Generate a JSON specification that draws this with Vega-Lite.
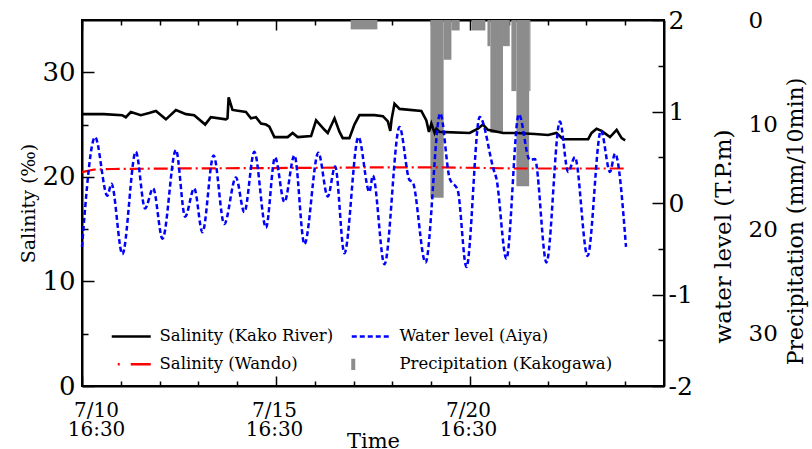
{
  "$schema": "https://vega.github.io/schema/vega-lite/v6.json",
  "width": 582,
  "height": 366,
  "autosize": {"type": "none"},
  "padding": {"left": 82, "top": 20, "right": 148, "bottom": 63},
  "background": "white",
  "config": {
    "view": {"stroke": "black", "strokeWidth": 2},
    "font": "DejaVu Serif",
    "axis": {"domainColor": "black", "domainWidth": 2, "tickColor": "black", "tickWidth": 1.5, "labelColor": "black", "titleColor": "black", "labelFont": "DejaVu Serif", "titleFont": "DejaVu Serif", "titleFontWeight": "normal", "grid": false, "labelOverlap": false}
  },
  "datasets": {
    "kako": [
      {"t": "2015-07-10T16:30:00Z", "v": 26.0},
      {"t": "2015-07-11T06:00:00Z", "v": 26.0},
      {"t": "2015-07-11T17:18:00Z", "v": 25.9},
      {"t": "2015-07-11T19:36:00Z", "v": 25.7},
      {"t": "2015-07-11T22:42:00Z", "v": 26.2},
      {"t": "2015-07-12T04:54:00Z", "v": 25.9},
      {"t": "2015-07-12T10:00:00Z", "v": 26.1},
      {"t": "2015-07-12T14:12:00Z", "v": 26.3},
      {"t": "2015-07-12T20:24:00Z", "v": 25.5},
      {"t": "2015-07-13T02:36:00Z", "v": 26.4},
      {"t": "2015-07-13T08:48:00Z", "v": 26.0},
      {"t": "2015-07-13T13:54:00Z", "v": 25.9},
      {"t": "2015-07-13T20:42:00Z", "v": 25.0},
      {"t": "2015-07-14T00:12:00Z", "v": 25.7},
      {"t": "2015-07-14T09:30:00Z", "v": 25.5},
      {"t": "2015-07-14T10:30:00Z", "v": 25.6},
      {"t": "2015-07-14T11:12:00Z", "v": 27.6},
      {"t": "2015-07-14T13:36:00Z", "v": 26.4},
      {"t": "2015-07-14T21:54:00Z", "v": 26.2},
      {"t": "2015-07-15T01:00:00Z", "v": 25.6},
      {"t": "2015-07-15T04:06:00Z", "v": 25.7},
      {"t": "2015-07-15T07:12:00Z", "v": 25.1},
      {"t": "2015-07-15T10:18:00Z", "v": 25.0},
      {"t": "2015-07-15T12:24:00Z", "v": 24.8},
      {"t": "2015-07-15T15:30:00Z", "v": 23.8},
      {"t": "2015-07-15T23:42:00Z", "v": 23.8},
      {"t": "2015-07-16T02:48:00Z", "v": 24.2},
      {"t": "2015-07-16T05:54:00Z", "v": 23.8},
      {"t": "2015-07-16T14:12:00Z", "v": 23.9},
      {"t": "2015-07-16T17:18:00Z", "v": 25.4},
      {"t": "2015-07-16T22:30:00Z", "v": 24.5},
      {"t": "2015-07-17T00:30:00Z", "v": 24.2},
      {"t": "2015-07-17T04:42:00Z", "v": 25.6},
      {"t": "2015-07-17T07:48:00Z", "v": 24.3},
      {"t": "2015-07-17T09:48:00Z", "v": 23.7},
      {"t": "2015-07-17T13:54:00Z", "v": 23.7},
      {"t": "2015-07-17T17:00:00Z", "v": 25.0},
      {"t": "2015-07-17T20:06:00Z", "v": 25.9},
      {"t": "2015-07-18T05:24:00Z", "v": 25.9},
      {"t": "2015-07-18T10:36:00Z", "v": 25.8},
      {"t": "2015-07-18T13:42:00Z", "v": 25.3},
      {"t": "2015-07-18T15:12:00Z", "v": 24.4},
      {"t": "2015-07-18T16:00:00Z", "v": 25.5},
      {"t": "2015-07-18T17:48:00Z", "v": 27.0},
      {"t": "2015-07-18T20:54:00Z", "v": 26.5},
      {"t": "2015-07-19T10:24:00Z", "v": 26.3},
      {"t": "2015-07-19T13:30:00Z", "v": 25.4},
      {"t": "2015-07-19T15:06:00Z", "v": 24.3},
      {"t": "2015-07-19T16:36:00Z", "v": 25.1},
      {"t": "2015-07-19T18:36:00Z", "v": 24.2},
      {"t": "2015-07-19T19:42:00Z", "v": 24.6},
      {"t": "2015-07-19T21:42:00Z", "v": 24.3},
      {"t": "2015-07-20T16:18:00Z", "v": 24.2},
      {"t": "2015-07-20T21:24:00Z", "v": 24.6},
      {"t": "2015-07-21T00:30:00Z", "v": 25.0},
      {"t": "2015-07-21T03:36:00Z", "v": 24.5},
      {"t": "2015-07-21T12:54:00Z", "v": 24.2},
      {"t": "2015-07-21T21:12:00Z", "v": 24.2},
      {"t": "2015-07-22T08:36:00Z", "v": 24.1},
      {"t": "2015-07-22T16:48:00Z", "v": 24.0},
      {"t": "2015-07-22T22:00:00Z", "v": 24.2},
      {"t": "2015-07-23T02:06:00Z", "v": 23.6},
      {"t": "2015-07-23T17:36:00Z", "v": 23.6},
      {"t": "2015-07-23T19:42:00Z", "v": 24.2},
      {"t": "2015-07-23T22:48:00Z", "v": 24.6},
      {"t": "2015-07-24T01:54:00Z", "v": 24.4},
      {"t": "2015-07-24T07:06:00Z", "v": 23.8},
      {"t": "2015-07-24T11:12:00Z", "v": 24.5},
      {"t": "2015-07-24T14:18:00Z", "v": 23.7},
      {"t": "2015-07-24T16:30:00Z", "v": 23.5}
    ],
    "wando": [
      {"t": "2015-07-10T16:30:00Z", "v": 20.45},
      {"t": "2015-07-11T00:00:00Z", "v": 20.7},
      {"t": "2015-07-11T12:00:00Z", "v": 20.75},
      {"t": "2015-07-13T00:00:00Z", "v": 20.8},
      {"t": "2015-07-16T00:00:00Z", "v": 20.85},
      {"t": "2015-07-18T00:00:00Z", "v": 20.9},
      {"t": "2015-07-20T00:00:00Z", "v": 20.9},
      {"t": "2015-07-22T00:00:00Z", "v": 20.8},
      {"t": "2015-07-24T16:30:00Z", "v": 20.8}
    ],
    "aiya": [
      {"t": "2015-07-10T16:30:00Z", "w": -0.48},
      {"t": "2015-07-11T00:36:00Z", "w": 0.72},
      {"t": "2015-07-11T08:12:00Z", "w": 0.08},
      {"t": "2015-07-11T10:42:00Z", "w": 0.21},
      {"t": "2015-07-11T17:30:00Z", "w": -0.56},
      {"t": "2015-07-12T01:48:00Z", "w": 0.56},
      {"t": "2015-07-12T07:30:00Z", "w": -0.06},
      {"t": "2015-07-12T12:30:00Z", "w": 0.16},
      {"t": "2015-07-12T18:18:00Z", "w": -0.39},
      {"t": "2015-07-13T02:36:00Z", "w": 0.58},
      {"t": "2015-07-13T08:18:00Z", "w": -0.15},
      {"t": "2015-07-13T13:54:00Z", "w": 0.16},
      {"t": "2015-07-13T19:00:00Z", "w": -0.32},
      {"t": "2015-07-14T01:54:00Z", "w": 0.52},
      {"t": "2015-07-14T08:30:00Z", "w": -0.23},
      {"t": "2015-07-14T15:42:00Z", "w": 0.28},
      {"t": "2015-07-14T20:54:00Z", "w": -0.10},
      {"t": "2015-07-15T03:06:00Z", "w": 0.56},
      {"t": "2015-07-15T10:18:00Z", "w": -0.27},
      {"t": "2015-07-15T15:54:00Z", "w": 0.50},
      {"t": "2015-07-15T21:42:00Z", "w": 0.01},
      {"t": "2015-07-16T03:54:00Z", "w": 0.52},
      {"t": "2015-07-16T10:06:00Z", "w": -0.45},
      {"t": "2015-07-16T18:42:00Z", "w": 0.55},
      {"t": "2015-07-17T00:30:00Z", "w": 0.07},
      {"t": "2015-07-17T05:06:00Z", "w": 0.40},
      {"t": "2015-07-17T10:48:00Z", "w": -0.55},
      {"t": "2015-07-17T19:30:00Z", "w": 0.72},
      {"t": "2015-07-18T02:18:00Z", "w": 0.12},
      {"t": "2015-07-18T04:24:00Z", "w": 0.30},
      {"t": "2015-07-18T11:36:00Z", "w": -0.67},
      {"t": "2015-07-18T20:54:00Z", "w": 0.83},
      {"t": "2015-07-19T03:06:00Z", "w": 0.25},
      {"t": "2015-07-19T05:00:00Z", "w": 0.23},
      {"t": "2015-07-19T13:00:00Z", "w": -0.65},
      {"t": "2015-07-19T22:06:00Z", "w": 0.98},
      {"t": "2015-07-20T03:54:00Z", "w": 0.27},
      {"t": "2015-07-20T08:54:00Z", "w": 0.14},
      {"t": "2015-07-20T14:18:00Z", "w": -0.70},
      {"t": "2015-07-20T22:30:00Z", "w": 0.94},
      {"t": "2015-07-21T07:12:00Z", "w": 0.36},
      {"t": "2015-07-21T08:48:00Z", "w": 0.27},
      {"t": "2015-07-21T15:00:00Z", "w": -0.61},
      {"t": "2015-07-21T22:42:00Z", "w": 0.97},
      {"t": "2015-07-22T05:30:00Z", "w": 0.47},
      {"t": "2015-07-22T08:36:00Z", "w": 0.48},
      {"t": "2015-07-22T15:48:00Z", "w": -0.65},
      {"t": "2015-07-23T00:06:00Z", "w": 0.89},
      {"t": "2015-07-23T05:12:00Z", "w": 0.34},
      {"t": "2015-07-23T09:24:00Z", "w": 0.50},
      {"t": "2015-07-23T17:12:00Z", "w": -0.58},
      {"t": "2015-07-24T01:30:00Z", "w": 0.79},
      {"t": "2015-07-24T07:06:00Z", "w": 0.34},
      {"t": "2015-07-24T10:12:00Z", "w": 0.54},
      {"t": "2015-07-24T17:00:00Z", "w": -0.48}
    ],
    "precip": [
      {"start": "2015-07-17T14:42:00Z", "end": "2015-07-18T07:12:00Z", "mm": 0.9},
      {"start": "2015-07-19T16:00:00Z", "end": "2015-07-20T00:12:00Z", "mm": 17},
      {"start": "2015-07-20T00:12:00Z", "end": "2015-07-20T05:00:00Z", "mm": 3.8},
      {"start": "2015-07-20T05:00:00Z", "end": "2015-07-20T10:06:00Z", "mm": 1.0},
      {"start": "2015-07-20T17:24:00Z", "end": "2015-07-21T02:00:00Z", "mm": 1.0},
      {"start": "2015-07-21T03:18:00Z", "end": "2015-07-21T05:06:00Z", "mm": 2.5},
      {"start": "2015-07-21T05:06:00Z", "end": "2015-07-21T12:54:00Z", "mm": 10.8},
      {"start": "2015-07-21T12:54:00Z", "end": "2015-07-21T17:06:00Z", "mm": 2.5},
      {"start": "2015-07-21T18:06:00Z", "end": "2015-07-21T21:12:00Z", "mm": 6.8},
      {"start": "2015-07-21T21:12:00Z", "end": "2015-07-22T05:06:00Z", "mm": 15.9},
      {"start": "2015-07-22T05:06:00Z", "end": "2015-07-22T05:54:00Z", "mm": 6.8}
    ]
  },
  "layer": [
    {
      "data": {"name": "precip"},
      "mark": {"type": "rect"},
      "encoding": {
        "x": {"field": "start", "type": "temporal", "axis": null},
        "x2": {"field": "end"},
        "y": {"field": "mm", "type": "quantitative", "scale": {"domain": [0, 35], "reverse": true, "nice": false},
          "axis": {"orient": "right", "offset": 80, "values": [0, 10, 20, 30], "domain": false, "ticks": false, "labelFontSize": 23, "labelPadding": 4, "title": "Precipitation (mm/10min)", "titleFontSize": 22, "titleAngle": 270, "titleBaseline": "top", "titlePadding": 8, "titleY": 201}},
        "y2": {"datum": 0},
        "color": {"datum": "Precipitation (Kakogawa)", "type": "nominal"}
      }
    },
    {
      "data": {"name": "kako"},
      "mark": {"type": "line", "strokeWidth": 2.6},
      "encoding": {
        "x": {"field": "t", "type": "temporal",
          "scale": {"type": "utc", "domain": [{"year": 2015, "month": 7, "date": 10, "hours": 16, "minutes": 30, "utc": true}, {"year": 2015, "month": 7, "date": 25, "hours": 16, "minutes": 30, "utc": true}]},
          "axis": {"orient": "bottom",
            "values": [
              {"year": 2015, "month": 7, "date": 10, "hours": 16, "minutes": 30, "utc": true},
              {"year": 2015, "month": 7, "date": 11, "hours": 16, "minutes": 30, "utc": true},
              {"year": 2015, "month": 7, "date": 12, "hours": 16, "minutes": 30, "utc": true},
              {"year": 2015, "month": 7, "date": 13, "hours": 16, "minutes": 30, "utc": true},
              {"year": 2015, "month": 7, "date": 14, "hours": 16, "minutes": 30, "utc": true},
              {"year": 2015, "month": 7, "date": 15, "hours": 16, "minutes": 30, "utc": true},
              {"year": 2015, "month": 7, "date": 16, "hours": 16, "minutes": 30, "utc": true},
              {"year": 2015, "month": 7, "date": 17, "hours": 16, "minutes": 30, "utc": true},
              {"year": 2015, "month": 7, "date": 18, "hours": 16, "minutes": 30, "utc": true},
              {"year": 2015, "month": 7, "date": 19, "hours": 16, "minutes": 30, "utc": true},
              {"year": 2015, "month": 7, "date": 20, "hours": 16, "minutes": 30, "utc": true},
              {"year": 2015, "month": 7, "date": 21, "hours": 16, "minutes": 30, "utc": true},
              {"year": 2015, "month": 7, "date": 22, "hours": 16, "minutes": 30, "utc": true},
              {"year": 2015, "month": 7, "date": 23, "hours": 16, "minutes": 30, "utc": true},
              {"year": 2015, "month": 7, "date": 24, "hours": 16, "minutes": 30, "utc": true}
            ],
            "tickSize": {"condition": {"test": "utcdate(datum.value) % 5 === 0", "value": -10}, "value": -5},
            "labelExpr": "utcdate(datum.value) % 5 === 0 ? [utcFormat(datum.value, '%-m/%-d'), utcFormat(datum.value, '%H:%M')] : ''",
            "labelFontSize": 20, "labelLineHeight": 19, "labelPadding": 24, "labelFlush": false, "labelBaseline": "top",
            "labelOffset": {"condition": {"test": "utcdate(datum.value) === 10", "value": 14}, "value": -2},
            "title": "Time", "titleFontSize": 21, "titlePadding": -9}},
        "y": {"field": "v", "type": "quantitative", "scale": {"domain": [0, 35], "nice": false},
          "axis": {"orient": "left", "values": [0, 5, 10, 15, 20, 25, 30],
            "tickSize": {"condition": {"test": "datum.value % 10 === 0", "value": -12}, "value": -6},
            "labelExpr": "datum.value % 10 === 0 ? datum.label : ''",
            "labelFontSize": 26, "labelPadding": 19, "title": "Salinity (‰)", "titleFontSize": 19, "titlePadding": 3}},
        "color": {"datum": "Salinity (Kako River)", "type": "nominal",
          "scale": {"domain": ["Salinity (Kako River)", "Salinity (Wando)", "Water level (Aiya)", "Precipitation (Kakogawa)"], "range": ["#000000", "#ff0000", "#0000ff", "#8c8c8c"]},
          "legend": {"orient": "none", "legendX": 29, "legendY": 308, "columns": 2, "title": null, "padding": 0,
            "labelFont": "DejaVu Serif", "labelFontSize": 16.5, "labelColor": "black", "labelLimit": 400,
            "symbolSize": 225, "symbolType": "M-1,0H4.2", "symbolStrokeWidth": 2.5, "labelOffset": 32, "rowPadding": 5, "columnPadding": 11,
            "encode": {"symbols": {"update": {
              "shape": {"signal": "datum.value === 'Precipitation (Kakogawa)' ? 'M-0.8,-0.75L-0.8,0.75' : 'M-1,0L4.2,0'"},
              "strokeWidth": {"signal": "datum.value === 'Precipitation (Kakogawa)' ? 4 : 2.5"},
              "strokeDash": {"signal": "datum.value === 'Water level (Aiya)' ? [5, 3] : datum.value === 'Salinity (Wando)' ? [2, 11, 20, 6] : [1, 0]"},
              "strokeDashOffset": {"signal": "datum.value === 'Salinity (Wando)' ? -6 : 0"},
              "stroke": {"scale": "color", "field": "value"},
              "fill": {"value": "transparent"},
              "opacity": {"value": 1}
            }}}}}
      }
    },
    {
      "data": {"name": "wando"},
      "mark": {"type": "line", "strokeWidth": 2.2, "strokeDash": [14, 4, 2, 4]},
      "encoding": {
        "x": {"field": "t", "type": "temporal",
          "axis": {"orient": "top",
            "values": [
              {"year": 2015, "month": 7, "date": 10, "hours": 16, "minutes": 30, "utc": true},
              {"year": 2015, "month": 7, "date": 11, "hours": 16, "minutes": 30, "utc": true},
              {"year": 2015, "month": 7, "date": 12, "hours": 16, "minutes": 30, "utc": true},
              {"year": 2015, "month": 7, "date": 13, "hours": 16, "minutes": 30, "utc": true},
              {"year": 2015, "month": 7, "date": 14, "hours": 16, "minutes": 30, "utc": true},
              {"year": 2015, "month": 7, "date": 15, "hours": 16, "minutes": 30, "utc": true},
              {"year": 2015, "month": 7, "date": 16, "hours": 16, "minutes": 30, "utc": true},
              {"year": 2015, "month": 7, "date": 17, "hours": 16, "minutes": 30, "utc": true},
              {"year": 2015, "month": 7, "date": 18, "hours": 16, "minutes": 30, "utc": true},
              {"year": 2015, "month": 7, "date": 19, "hours": 16, "minutes": 30, "utc": true},
              {"year": 2015, "month": 7, "date": 20, "hours": 16, "minutes": 30, "utc": true},
              {"year": 2015, "month": 7, "date": 21, "hours": 16, "minutes": 30, "utc": true},
              {"year": 2015, "month": 7, "date": 22, "hours": 16, "minutes": 30, "utc": true},
              {"year": 2015, "month": 7, "date": 23, "hours": 16, "minutes": 30, "utc": true},
              {"year": 2015, "month": 7, "date": 24, "hours": 16, "minutes": 30, "utc": true}
            ],
            "tickSize": {"condition": {"test": "utcdate(datum.value) % 5 === 0", "value": -10}, "value": -5},
            "labels": false, "title": null}},
        "y": {"field": "v", "type": "quantitative", "scale": {"domain": [0, 35], "nice": false}, "axis": null},
        "color": {"datum": "Salinity (Wando)", "type": "nominal"}
      }
    },
    {
      "data": {"name": "aiya"},
      "mark": {"type": "line", "strokeWidth": 2.5, "strokeDash": [5, 3], "interpolate": "monotone"},
      "encoding": {
        "x": {"field": "t", "type": "temporal", "axis": null},
        "y": {"field": "w", "type": "quantitative", "scale": {"domain": [-2, 2], "nice": false},
          "axis": {"orient": "right", "values": [-2, -1.5, -1, -0.5, 0, 0.5, 1, 1.5, 2],
            "tickSize": {"condition": {"test": "datum.value % 1 === 0", "value": -12}, "value": -6},
            "labelExpr": "datum.value % 1 === 0 ? '' + datum.value : ''",
            "labelFontSize": 25, "labelPadding": 16, "title": "water level (T.P.m)", "titleFontSize": 23, "titleAngle": 270, "titleBaseline": "top", "titlePadding": 20, "titleY": 216}},
        "color": {"datum": "Water level (Aiya)", "type": "nominal"}
      }
    }
  ],
  "resolve": {"scale": {"y": "independent"}, "axis": {"x": "independent", "y": "independent"}}
}
